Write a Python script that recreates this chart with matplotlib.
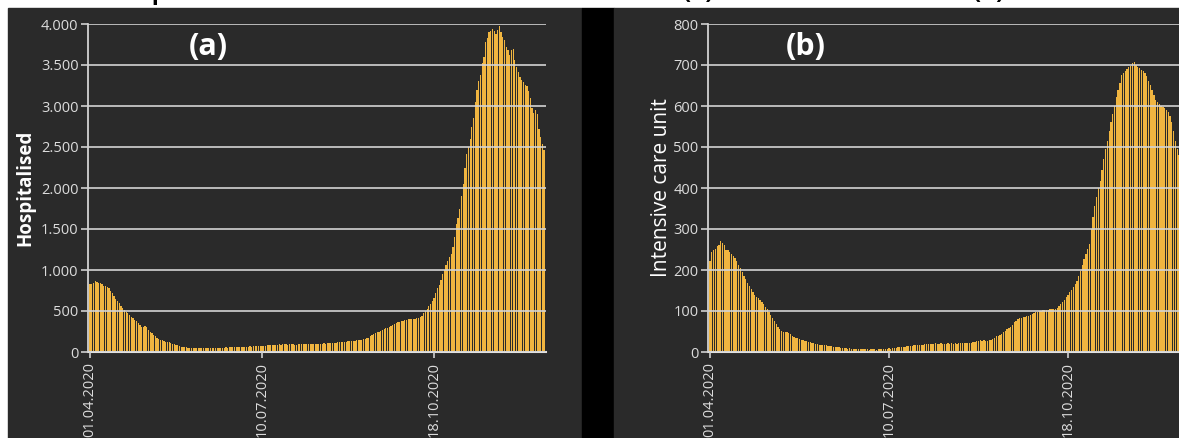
import numpy as np
import pandas as pd
import matplotlib
matplotlib.use('Agg')
import matplotlib.pyplot as plt
from matplotlib.patches import Rectangle
from matplotlib.ticker import FuncFormatter

W, H = 1179, 438
plt.rcParams['font.family'] = ['Open Sans', 'DejaVu Sans']

start_date = '2020-04-01'

# daily hospitalised patients, 01.04.2020 - 21.12.2020
hospitalised = [
    830, 825, 845, 865, 850, 840, 845,
    830, 810, 800, 790, 775, 750, 715,
    680, 650, 620, 595, 565, 540, 512,
    490, 470, 450, 430, 410, 395, 380,
    350, 325, 310, 305, 315, 310, 270,
    250, 230, 210, 190, 175, 160, 150,
    143, 135, 128, 122, 118, 110, 100,
    92, 85, 80, 72, 66, 60, 57,
    55, 52, 50, 48, 46, 45, 45,
    44, 46, 44, 45, 47, 45, 46,
    48, 47, 49, 48, 50, 52, 51,
    52, 53, 55, 54, 56, 58, 57,
    58, 60, 61, 60, 62, 64, 63,
    65, 66, 68, 67, 70, 72, 71,
    73, 75, 74, 76, 78, 80, 82,
    84, 86, 85, 88, 90, 92, 91,
    93, 95, 92, 90, 92, 94, 93,
    91, 90, 92, 94, 95, 93, 92,
    94, 96, 95, 97, 95, 94, 96,
    98, 100, 102, 104, 103, 106, 108,
    110, 112, 111, 114, 116, 118, 120,
    122, 125, 127, 129, 131, 134, 137,
    140, 143, 146, 150, 152, 155, 158,
    165, 175, 190, 205, 220, 235, 242,
    248, 255, 265, 280, 290, 298, 305,
    320, 330, 340, 350, 360, 368, 375,
    380, 388, 395, 400, 405, 408, 400,
    405, 410, 420, 430, 440, 470, 500,
    530, 560, 590, 620, 660, 720, 780,
    820, 880, 950, 1000, 1060, 1110, 1160,
    1200, 1280, 1400, 1560, 1640, 1750, 1900,
    2050, 2250, 2420, 2500, 2600, 2750, 2850,
    3050, 3200, 3300, 3380, 3530, 3600, 3780,
    3830, 3900, 3920, 3940, 3910, 3880, 3930,
    3980, 3900, 3840, 3800, 3720, 3680, 3620,
    3680, 3700, 3560, 3480, 3420, 3350, 3320,
    3290, 3260, 3250, 3180, 3100, 2980, 2920,
    2950, 2900, 2720, 2620, 2540, 2460,
]

# daily intensive care unit patients, same period
icu = [
    222, 245, 250, 252, 258, 262, 270,
    265, 262, 250, 248, 244, 240, 235,
    230, 222, 212, 205, 195, 185, 178,
    168, 160, 153, 146, 140, 135, 131,
    128, 122, 116, 110, 104, 97, 90,
    83, 76, 69, 62, 56, 52, 50,
    49, 48, 46, 44, 40, 37, 35,
    33, 31, 30, 29, 28, 26, 25,
    24, 23, 21, 20, 19, 18, 18,
    17, 16, 16, 15, 14, 14, 13,
    12, 12, 11, 10, 10, 9, 9,
    8, 9, 8, 8, 7, 8, 8,
    7, 8, 7, 7, 7, 6, 7,
    7, 7, 6, 7, 7, 8, 7,
    8, 8, 9, 8, 9, 10, 10,
    11, 11, 12, 12, 13, 14, 14,
    15, 15, 16, 16, 17, 17, 18,
    18, 19, 19, 20, 20, 19, 20,
    21, 20, 20, 21, 20, 19, 20,
    21, 20, 21, 20, 21, 20, 21,
    21, 22, 21, 22, 22, 23, 23,
    24, 25, 26, 28, 29, 28, 29,
    28, 28, 29, 30, 32, 35, 38,
    40, 42, 45, 48, 52, 55, 58,
    62, 66, 72, 76, 80, 82, 84,
    85, 86, 87, 88, 90, 92, 94,
    97, 98, 100, 101, 102, 102, 103,
    103, 104, 104, 105, 106, 108, 112,
    117, 122, 128, 134, 140, 146, 152,
    158, 165, 172, 185, 198, 212, 228,
    240, 252, 264, 300, 330, 355, 378,
    400, 418, 445, 470, 495, 515, 540,
    560, 580, 600, 622, 640, 655, 675,
    680, 686, 690, 694, 698, 704, 708,
    700, 695, 692, 689, 686, 680, 672,
    662, 652, 640, 628, 615, 610, 605,
    600, 597, 594, 590, 585, 575, 560,
    540, 515, 495, 480, 470, 460,
]

tick_dates = ['2020-04-01', '2020-07-10', '2020-10-18']
tick_labels = ['01.04.2020', '10.07.2020', '18.10.2020']

BG = '#2a2a2a'
BAR = '#f0b540'
TXT = '#dcdcdc'

fig = plt.figure(figsize=(W / 100, H / 100), dpi=100, facecolor='white')

# dark panels with a black gap between them
def px_rect(x0, x1, y0, y1, color):
    fig.add_artist(Rectangle((x0 / W, 1 - y1 / H), (x1 - x0) / W, (y1 - y0) / H,
                             transform=fig.transFigure, color=color, zorder=0))

px_rect(8, 582, 8, H, BG)
px_rect(582, 614, 8, H, 'black')
px_rect(614, W, 8, H, BG)

# title, only its lowest part is inside the picture
for x, s in [(99, 'Comparison of normal wards'), (683, '(a)'),
             (740, 'and ICU wards'), (973, '(b)')]:
    fig.text(x / W, 1 + 1 / H, s, fontsize=17, fontweight='bold', color='black',
             va='baseline', ha='left')


def thousands(v, p):
    return '{:,}'.format(int(v)).replace(',', '.')


def panel(left, dpd, values, ymax, ystep, label, bold, lsize, label_x, tag, tag_x):
    dates = pd.date_range(start_date, periods=len(values), freq='D')
    width = 266 * dpd
    ax = fig.add_axes([left / W, (H - 352) / H, width / W, 328 / H])
    ax.patch.set_alpha(0)
    ax.bar(dates, values, width=0.72, color=BAR, linewidth=0, zorder=2)
    ax.set_xlim(dates[0] - pd.Timedelta(days=1), dates[-1] + pd.Timedelta(days=1))
    ax.set_ylim(0, ymax)
    ax.set_yticks(np.arange(0, ymax + 1, ystep))
    ax.yaxis.set_major_formatter(FuncFormatter(thousands))
    ax.set_xticks(pd.to_datetime(tick_dates))
    ax.set_xticklabels(tick_labels, rotation=90, va='top', ha='center')
    ax.grid(axis='y', color='#d4d4d4', linewidth=1.4, alpha=0.85, zorder=3)
    ax.set_axisbelow(False)
    for s in ['top', 'right']:
        ax.spines[s].set_visible(False)
    ax.spines['left'].set_color('#e0e0e0')
    ax.spines['left'].set_linewidth(1.2)
    ax.spines['bottom'].set_color('#e0e0e0')
    ax.spines['bottom'].set_linewidth(1.5)
    ax.tick_params(axis='y', colors='#cfcfcf', labelcolor=TXT, labelsize=10.5,
                   length=5, width=1.2, pad=2)
    ax.tick_params(axis='x', colors='#cfcfcf', labelcolor=TXT, labelsize=10.5,
                   length=4, width=1.2, pad=3)
    ax.set_ylabel(label, color='white', fontsize=lsize,
                  fontweight='bold' if bold else 'normal')
    ax.yaxis.set_label_coords((label_x - left) / width, 0.5)
    fig.text(tag_x / W, 1 - 47 / H, tag, color='white', fontsize=22,
             fontweight='bold', ha='center', va='center')
    return ax


panel(88.3, 1.72, hospitalised, 4000, 500, 'Hospitalised', True, 13.5, 35, '(a)', 208)
panel(708.2, 1.79, icu, 800, 100, 'Intensive care unit', False, 15, 672, '(b)', 806)

fig.savefig('out.png', dpi=100, facecolor='white')
